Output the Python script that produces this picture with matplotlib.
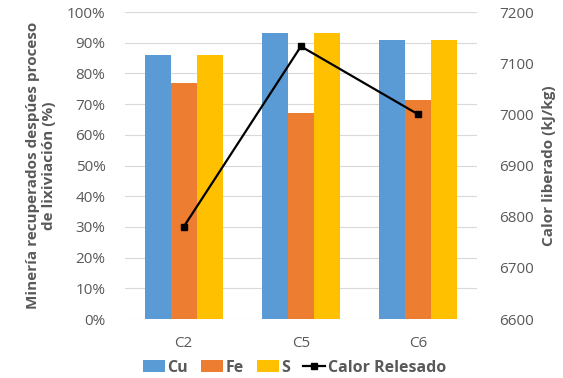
import numpy as np
import matplotlib.pyplot as plt

plt.rcParams['font.family'] = ['Open Sans', 'DejaVu Sans']

muestras = ["C2", "C5", "C6"]
cu = [86.0, 93.3, 91.0]
fe = [77.0, 67.0, 71.3]
s = [86.0, 93.3, 91.0]
calor = [6780, 7133, 7000]

gris = "#595959"
x = np.arange(len(muestras))
w = 0.222

fig = plt.figure(figsize=(5.63, 3.78), dpi=100)
ax = fig.add_axes([0.222, 0.156, 0.625, 0.812])

b1 = ax.bar(x - w, cu, w, color="#5B9BD5", label="Cu", zorder=2)
b2 = ax.bar(x, fe, w, color="#ED7D31", label="Fe", zorder=2)
b3 = ax.bar(x + w, s, w, color="#FFC000", label="S", zorder=2)

ax.set_xlim(-0.5, 2.5)
ax.set_ylim(0, 100)
ax.set_yticks(np.arange(0, 101, 10))
ax.set_yticklabels([f"{v}%" for v in range(0, 101, 10)])
ax.set_xticks(x)
ax.set_xticklabels(muestras)
ax.grid(axis="y", color="#d9d9d9", linewidth=0.8, zorder=0)
for sp in ax.spines.values():
    sp.set_visible(False)
ax.tick_params(axis="both", length=0, colors=gris, labelsize=11)
ax.tick_params(axis="x", pad=12)
ax.tick_params(axis="y", pad=14)

# título del eje izquierdo en dos líneas centradas
fig.text(0.073, 0.562, "Minería recuperados despúes proceso\nde lixiviación (%)",
         rotation=90, ha="center", va="center", ma="center",
         color=gris, fontsize=11, fontweight="bold", linespacing=1.25)

ax2 = ax.twinx()
l1, = ax2.plot(x, calor, color="black", marker="s", markersize=4,
               linewidth=1.6, label="Calor Relesado", zorder=3)
ax2.set_ylim(6600, 7200)
ax2.set_yticks(np.arange(6600, 7201, 100))
for sp in ax2.spines.values():
    sp.set_visible(False)
ax2.tick_params(axis="y", length=0, colors=gris, labelsize=11, pad=16)
ax2.set_ylabel("Calor liberado (kJ/kg)", color=gris, fontsize=11,
               fontweight="bold", labelpad=6)

leg = fig.legend(handles=[b1, b2, b3, l1], loc="center", ncol=4,
                 bbox_to_anchor=(0.523, 0.027), frameon=False,
                 prop={"weight": "bold", "size": 11.5},
                 handlelength=1.4, handleheight=0.8, handletextpad=0.15,
                 columnspacing=0.8)
for t in leg.get_texts():
    t.set_color(gris)

fig.savefig("out.png", dpi=100)
